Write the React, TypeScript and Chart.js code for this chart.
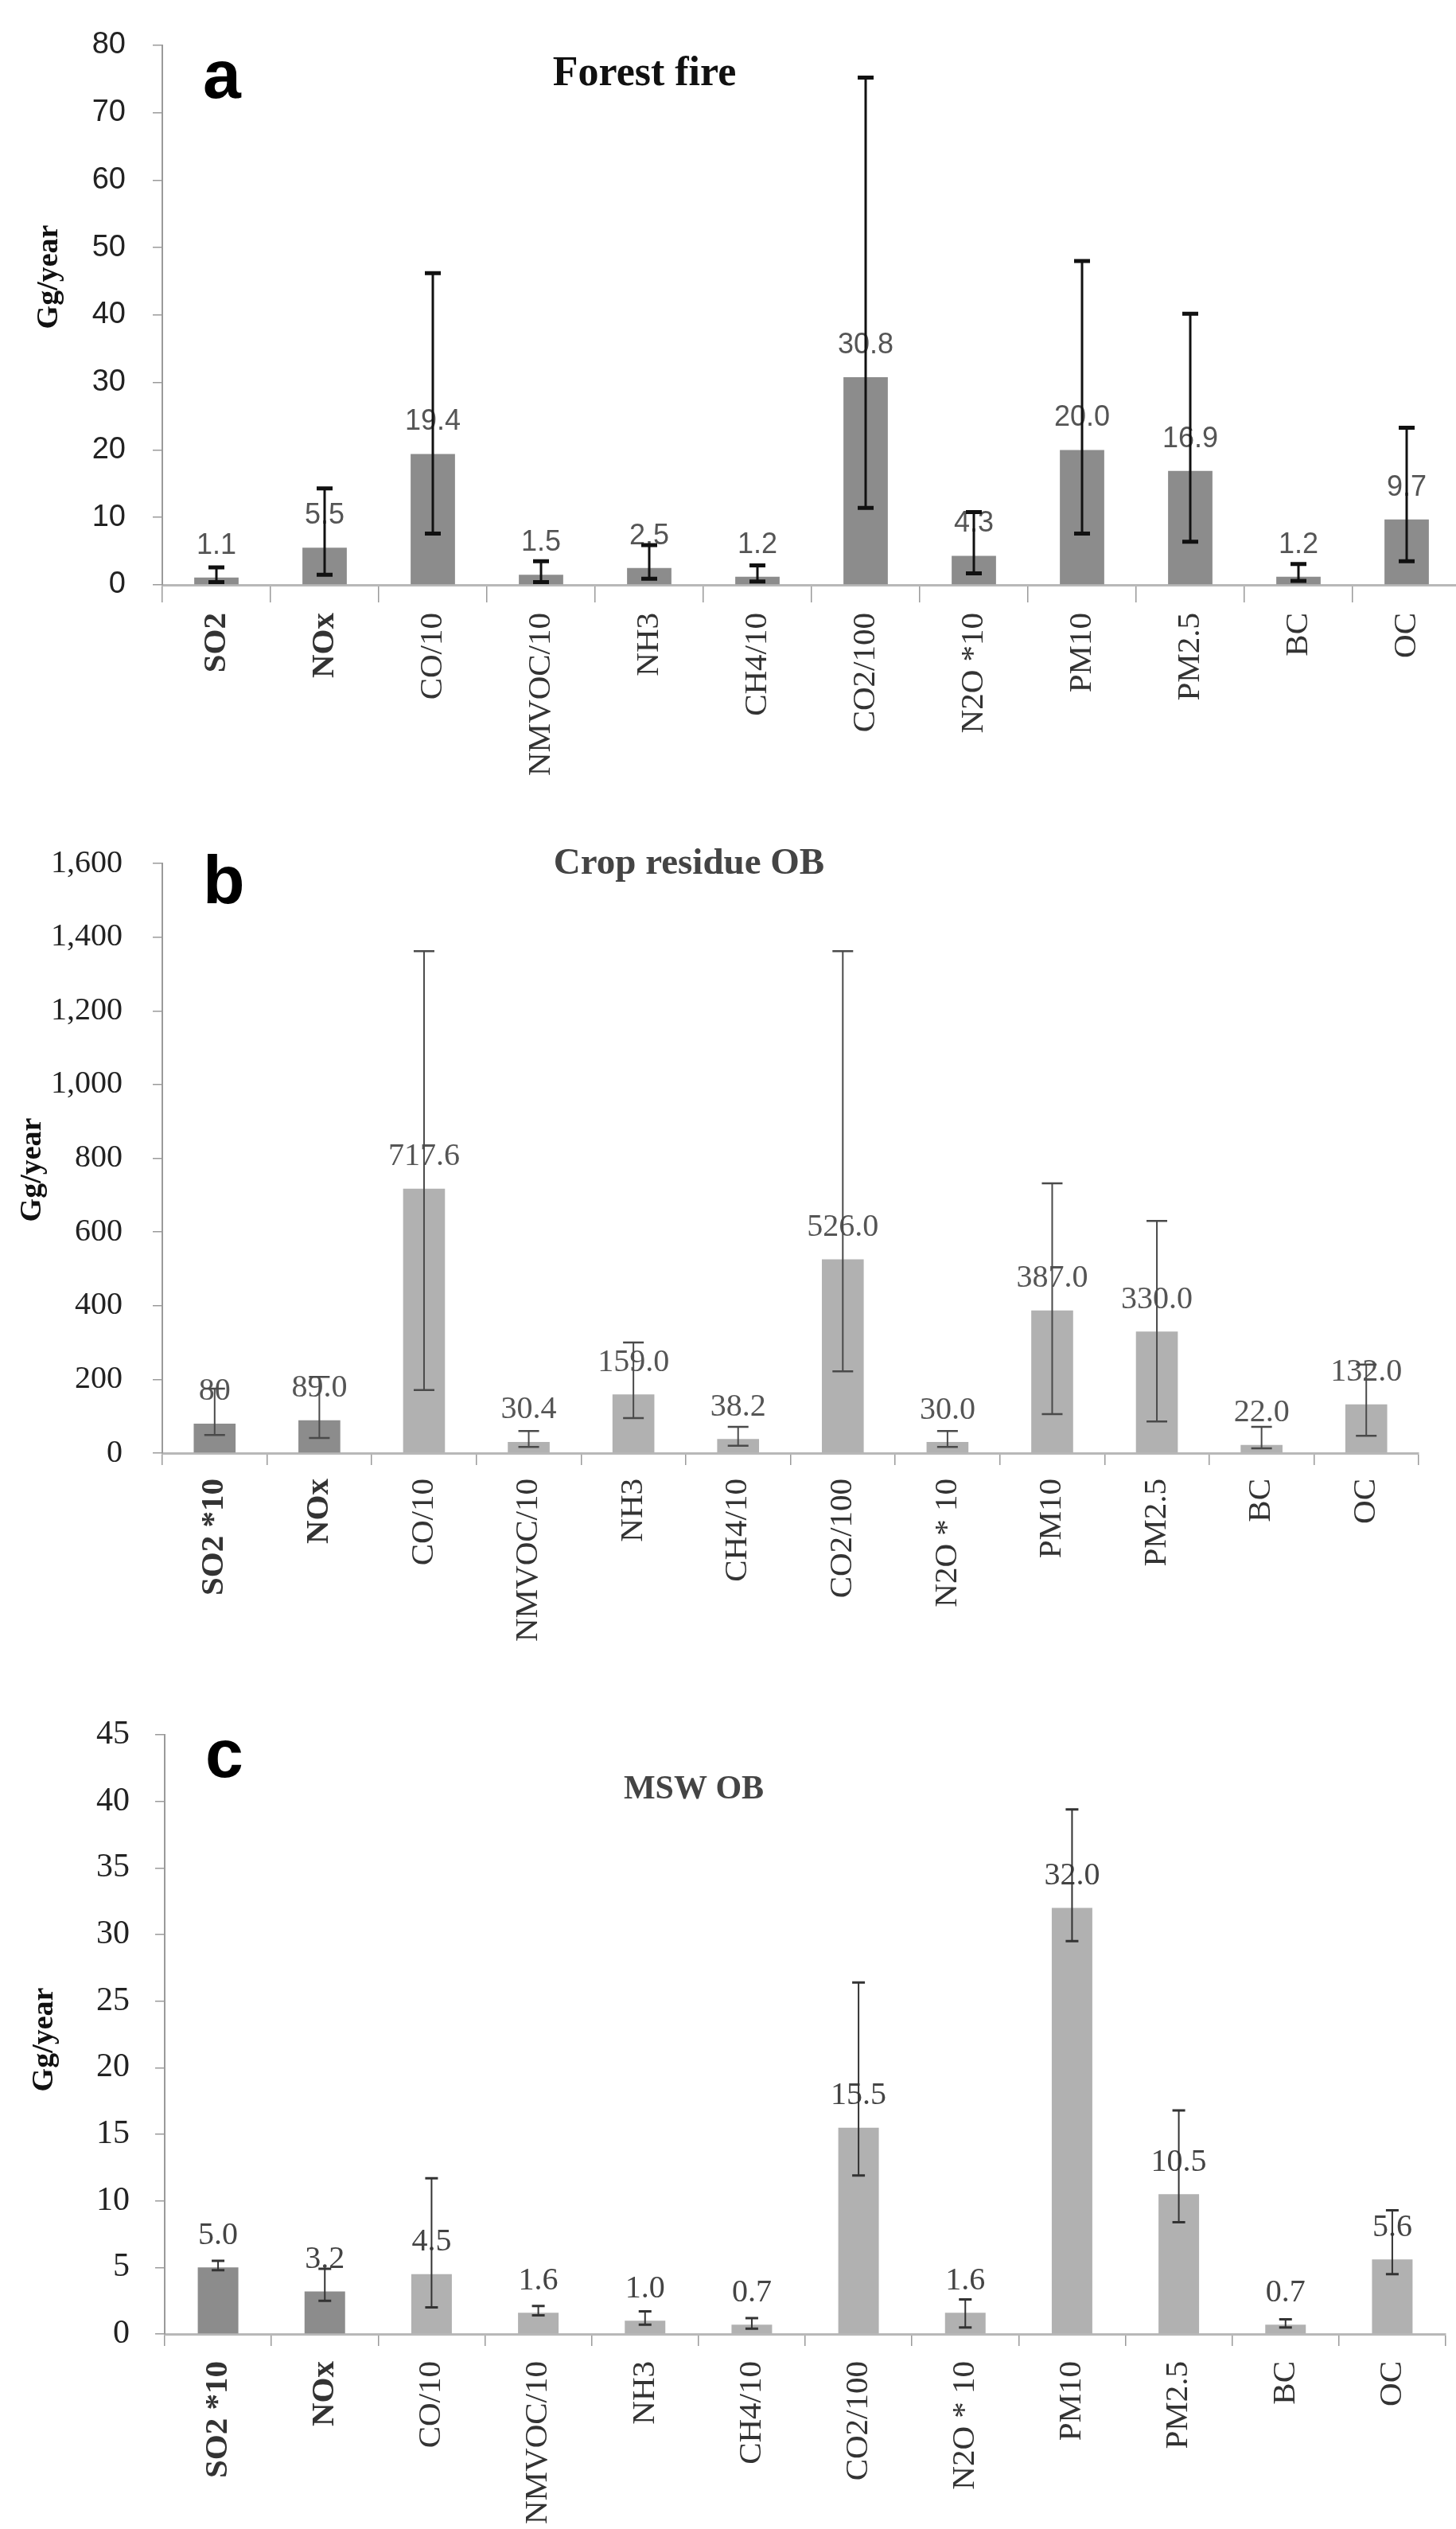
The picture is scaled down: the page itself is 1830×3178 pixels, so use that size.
import React, { useEffect, useRef } from 'react';
import { Chart, registerables } from 'chart.js';

Chart.register(...registerables);

// ---------------- Data ----------------
const categoriesA = ['SO2', 'NOx', 'CO/10', 'NMVOC/10', 'NH3', 'CH4/10', 'CO2/100', 'N2O *10', 'PM10', 'PM2.5', 'BC', 'OC'];
const valuesA = [1.1, 5.5, 19.4, 1.5, 2.5, 1.2, 30.8, 4.3, 20.0, 16.9, 1.2, 9.7];
const lowA = [0.4, 1.5, 7.6, 0.4, 0.9, 0.5, 11.4, 1.7, 7.6, 6.4, 0.6, 3.5];
const highA = [2.6, 14.3, 46.2, 3.5, 5.9, 2.9, 75.2, 10.8, 48.0, 40.2, 3.1, 23.3];
const valueLabelsA = ['1.1', '5.5', '19.4', '1.5', '2.5', '1.2', '30.8', '4.3', '20.0', '16.9', '1.2', '9.7'];

const categoriesB = ['SO2 *10', 'NOx', 'CO/10', 'NMVOC/10', 'NH3', 'CH4/10', 'CO2/100', 'N2O * 10', 'PM10', 'PM2.5', 'BC', 'OC'];
const valuesB = [80, 89.0, 717.6, 30.4, 159.0, 38.2, 526.0, 30.0, 387.0, 330.0, 22.0, 132.0];
const lowB = [49, 41, 171, 17, 95, 20, 222, 17, 106, 86, 13, 47];
const highB = [175, 207, 1362, 60, 300, 71, 1362, 60, 732, 630, 71, 240];
const valueLabelsB = ['80', '89.0', '717.6', '30.4', '159.0', '38.2', '526.0', '30.0', '387.0', '330.0', '22.0', '132.0'];

const categoriesC = ['SO2 *10', 'NOx', 'CO/10', 'NMVOC/10', 'NH3', 'CH4/10', 'CO2/100', 'N2O * 10', 'PM10', 'PM2.5', 'BC', 'OC'];
const valuesC = [5.0, 3.2, 4.5, 1.6, 1.0, 0.7, 15.5, 1.6, 32.0, 10.5, 0.7, 5.6];
const lowC = [4.8, 2.5, 2.0, 1.4, 0.7, 0.4, 11.9, 0.5, 29.5, 8.4, 0.5, 4.5];
const highC = [5.5, 4.9, 11.7, 2.1, 1.7, 1.2, 26.4, 2.6, 39.4, 16.8, 1.1, 9.3];
const valueLabelsC = ['5.0', '3.2', '4.5', '1.6', '1.0', '0.7', '15.5', '1.6', '32.0', '10.5', '0.7', '5.6'];

const titles = ['Forest fire', 'Crop residue OB', 'MSW OB'];
const panelLetters = ['a', 'b', 'c'];
const yAxisTitle = 'Gg/year';

// ---------------- Styles ----------------
const DARK = '#8c8c8c';
const LIGHT = '#b1b1b1';
const SERIF = '"Liberation Serif", "Times New Roman", serif';
const SANS = '"Liberation Sans", Arial, sans-serif';

const panels = [
  {
    top: 0, width: 1840, height: 1000,
    chartTop: 47, chartBottom: 735, chartLeft: 204, chartRight: 1836,
    categories: categoriesA, values: valuesA, low: lowA, high: highA, valueLabels: valueLabelsA,
    colors: categoriesA.map(() => DARK),
    yMax: 80, yStep: 10,
    barPct: 0.41,
    tickFont: { family: SANS, size: 38 }, tickPad: 34,
    catFont: { family: SERIF, size: 41 }, catTickLen: 22, catPad: 13,
    valueFont: '36px ' + SANS, valueColor: '#555',
    err: { color: '#111', width: 3, cap: 20, capWidth: 5 },
    letter: { x: 255, y: 123 },
    title: { text: titles[0], x: 810, y: 107, font: 'bold 52px ' + SERIF, color: '#111' },
    yTitle: { x: 62, y: 348 },
    letterText: panelLetters[0],
  },
  {
    top: 1000, width: 1830, height: 1110,
    chartTop: 85, chartBottom: 826, chartLeft: 204, chartRight: 1783,
    categories: categoriesB, values: valuesB, low: lowB, high: highB, valueLabels: valueLabelsB,
    colors: categoriesB.map((_, i) => (i < 2 ? DARK : LIGHT)),
    yMax: 1600, yStep: 200,
    barPct: 0.4,
    tickFont: { family: SERIF, size: 40 }, tickPad: 38,
    catFont: { family: SERIF, size: 41 }, catTickLen: 15, catPad: 17,
    valueFont: '40px ' + SERIF, valueColor: '#555',
    err: { color: '#4a4a4a', width: 2, cap: 26, capWidth: 2.5 },
    letter: { x: 255, y: 135 },
    title: { text: titles[1], x: 866, y: 98, font: 'bold 47px ' + SERIF, color: '#444' },
    yTitle: { x: 41, y: 470 },
    letterText: panelLetters[1],
  },
  {
    top: 2120, width: 1830, height: 1058,
    chartTop: 60, chartBottom: 813, chartLeft: 207, chartRight: 1817,
    categories: categoriesC, values: valuesC, low: lowC, high: highC, valueLabels: valueLabelsC,
    colors: categoriesC.map((_, i) => (i < 2 ? DARK : LIGHT)),
    yMax: 45, yStep: 5,
    barPct: 0.38,
    tickFont: { family: SERIF, size: 42 }, tickPad: 32,
    catFont: { family: SERIF, size: 41 }, catTickLen: 15, catPad: 19,
    valueFont: '40px ' + SERIF, valueColor: '#444',
    err: { color: '#333', width: 2, cap: 16, capWidth: 3 },
    letter: { x: 258, y: 2233 - 2120 },
    title: { text: titles[2], x: 872, y: 140, font: 'bold 42px ' + SERIF, color: '#444' },
    yTitle: { x: 56, y: 443 },
    letterText: panelLetters[2],
  },
];

type PanelCfg = typeof panels[number];

function Panel({ cfg }: { cfg: PanelCfg }) {
  const ref = useRef<HTMLCanvasElement>(null);

  useEffect(() => {
    const canvas = ref.current;
    if (!canvas) return;

    const decor = {
      id: 'decor',
      afterDatasetsDraw(chart: any) {
        const ctx = chart.ctx;
        const meta = chart.getDatasetMeta(0);
        const ys = chart.scales.y;
        ctx.save();
        ctx.font = cfg.valueFont;
        ctx.fillStyle = cfg.valueColor;
        ctx.textAlign = 'center';
        ctx.textBaseline = 'middle';
        meta.data.forEach((el: any, i: number) => {
          ctx.fillText(cfg.valueLabels[i], el.x, el.y - 40);
        });
        ctx.strokeStyle = cfg.err.color;
        meta.data.forEach((el: any, i: number) => {
          const t = ys.getPixelForValue(cfg.high[i]);
          const b = ys.getPixelForValue(cfg.low[i]);
          ctx.lineWidth = cfg.err.width;
          ctx.beginPath();
          ctx.moveTo(el.x, t);
          ctx.lineTo(el.x, b);
          ctx.stroke();
          ctx.lineWidth = cfg.err.capWidth;
          ctx.beginPath();
          ctx.moveTo(el.x - cfg.err.cap / 2, t);
          ctx.lineTo(el.x + cfg.err.cap / 2, t);
          ctx.moveTo(el.x - cfg.err.cap / 2, b);
          ctx.lineTo(el.x + cfg.err.cap / 2, b);
          ctx.stroke();
        });
        ctx.restore();
      },
      afterDraw(chart: any) {
        const ctx = chart.ctx;
        ctx.save();
        // panel letter
        ctx.fillStyle = '#000';
        ctx.font = 'bold 86px ' + SANS;
        ctx.textAlign = 'left';
        ctx.textBaseline = 'alphabetic';
        ctx.fillText(cfg.letterText, cfg.letter.x, cfg.letter.y);
        // panel title
        ctx.font = cfg.title.font;
        ctx.fillStyle = cfg.title.color;
        ctx.textAlign = 'center';
        ctx.fillText(cfg.title.text, cfg.title.x, cfg.title.y);
        // y axis title
        ctx.translate(cfg.yTitle.x, cfg.yTitle.y);
        ctx.rotate(-Math.PI / 2);
        ctx.font = 'bold 38px ' + SERIF;
        ctx.fillStyle = '#111';
        ctx.textAlign = 'center';
        ctx.textBaseline = 'middle';
        ctx.fillText(yAxisTitle, 0, 0);
        ctx.restore();
      },
    };

    const chart = new Chart(canvas, {
      type: 'bar',
      data: {
        labels: cfg.categories,
        datasets: [
          {
            data: cfg.values,
            backgroundColor: cfg.colors,
            borderWidth: 0,
            barPercentage: cfg.barPct,
            categoryPercentage: 1,
          },
        ],
      },
      options: {
        animation: false,
        responsive: false,
        devicePixelRatio: 1,
        locale: 'en-US',
        layout: {
          padding: { left: 0, top: cfg.chartTop, right: cfg.width - cfg.chartRight, bottom: 0 },
        },
        plugins: {
          legend: { display: false },
          tooltip: { enabled: false },
          title: { display: false },
        },
        scales: {
          x: {
            offset: true,
            grid: {
              display: true,
              drawOnChartArea: false,
              drawTicks: true,
              offset: true,
              tickLength: cfg.catTickLen,
              color: '#9a9a9a',
              lineWidth: 1.5,
            },
            border: { display: true, color: '#b8b8b8', width: 3 },
            ticks: {
              autoSkip: false,
              minRotation: 90,
              maxRotation: 90,
              padding: cfg.catPad,
              color: '#333',
              font: (c: any) => ({
                family: cfg.catFont.family,
                size: cfg.catFont.size,
                weight: c.index < 2 ? 'bold' : 'normal',
              }),
            },
            afterFit: (s: any) => {
              s.height = cfg.height - cfg.chartBottom;
            },
          },
          y: {
            min: 0,
            max: cfg.yMax,
            grid: {
              display: true,
              drawOnChartArea: false,
              drawTicks: true,
              tickLength: 12,
              color: '#9a9a9a',
              lineWidth: 1.5,
            },
            border: { display: true, color: '#9a9a9a', width: 2 },
            ticks: {
              stepSize: cfg.yStep,
              padding: cfg.tickPad,
              color: '#222',
              font: cfg.tickFont,
            },
            afterFit: (s: any) => {
              s.width = cfg.chartLeft;
            },
          },
        },
      },
      plugins: [decor],
    } as any);

    return () => chart.destroy();
  }, [cfg]);

  return (
    <canvas
      ref={ref}
      width={cfg.width}
      height={cfg.height}
      style={{ position: 'absolute', left: 0, top: cfg.top, width: cfg.width, height: cfg.height, display: 'block' }}
    />
  );
}

export default function App() {
  return (
    <div
      style={{
        position: 'absolute',
        left: 0,
        top: 0,
        width: 1830,
        height: 3178,
        overflow: 'hidden',
        background: '#fff',
      }}
    >
      {panels.map((p, i) => (
        <Panel key={i} cfg={p} />
      ))}
    </div>
  );
}
